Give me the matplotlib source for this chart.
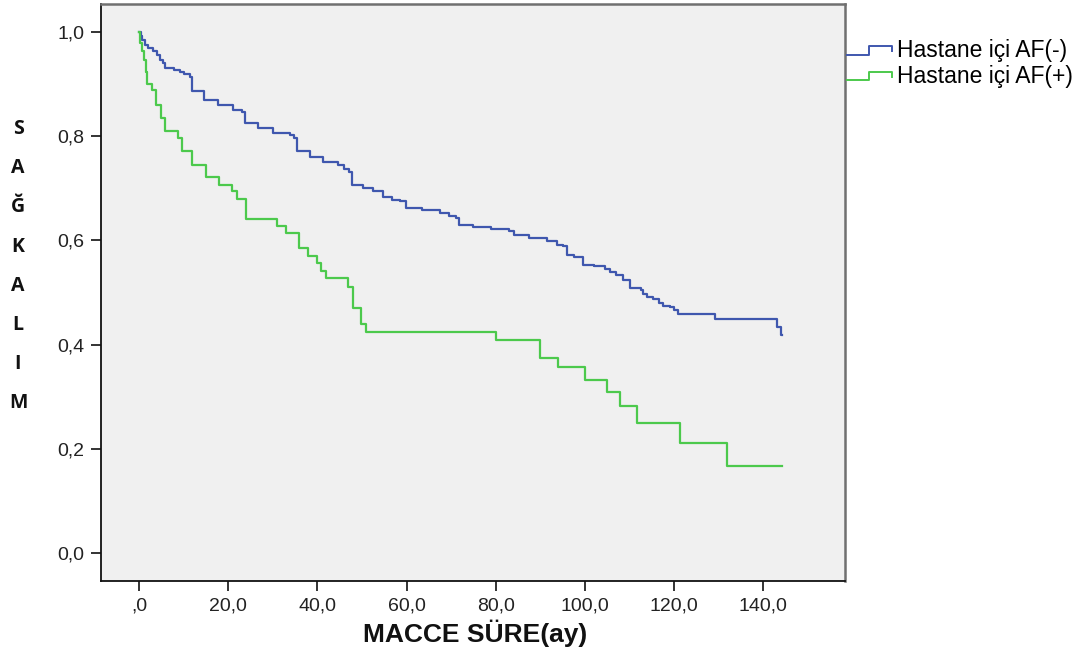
import matplotlib
matplotlib.use("Agg")
import matplotlib.pyplot as plt
from matplotlib.lines import Line2D
from matplotlib.legend_handler import HandlerBase

# ---- data ----
af_neg_t = [0.0, 0.4, 0.8, 1.4, 2.1, 3.2, 4.0, 4.7, 5.5, 5.9, 7.8, 9.2, 10.0, 11.4, 11.8,
            14.7, 17.7, 21.1, 23.0, 23.8, 26.8, 30.1, 33.9, 34.8, 35.4, 38.3, 41.3, 44.7,
            46.0, 47.0, 47.7, 50.3, 52.5, 54.8, 56.8, 58.5, 59.8, 63.5, 67.5, 69.5, 71.0,
            71.8, 75.0, 79.0, 83.0, 84.0, 87.5, 91.5, 93.8, 95.0, 95.9, 97.5, 99.6, 102.0,
            104.5, 105.6, 107.0, 108.5, 110.1, 112.5, 113.0, 114.0, 115.3, 116.5, 117.5,
            119.0, 120.0, 120.9, 129.1, 143.0, 144.0, 144.2]
af_neg_s = [1.0, 0.992, 0.985, 0.976, 0.969, 0.963, 0.956, 0.947, 0.940, 0.931, 0.928, 0.924,
            0.920, 0.914, 0.887, 0.869, 0.860, 0.851, 0.847, 0.825, 0.815, 0.806, 0.803,
            0.796, 0.771, 0.761, 0.751, 0.745, 0.738, 0.732, 0.707, 0.700, 0.695, 0.684,
            0.678, 0.675, 0.662, 0.659, 0.653, 0.646, 0.643, 0.630, 0.625, 0.622, 0.618,
            0.611, 0.604, 0.598, 0.591, 0.589, 0.572, 0.569, 0.553, 0.550, 0.546, 0.540,
            0.534, 0.524, 0.508, 0.505, 0.497, 0.492, 0.487, 0.480, 0.474, 0.472, 0.466,
            0.458, 0.449, 0.434, 0.418, 0.418]

af_pos_t = [0.0, 0.3, 0.7, 1.1, 1.5, 1.9, 2.9, 3.8, 4.9, 5.8, 8.8, 9.6, 11.8, 15.0, 18.0,
            20.8, 21.9, 23.9, 30.9, 32.9, 35.9, 37.9, 40.0, 40.8, 41.9, 46.9, 48.0, 49.9,
            50.9, 80.0, 89.9, 94.0, 100.0, 104.9, 107.8, 111.6, 121.3, 131.8, 144.1]
af_pos_s = [1.0, 0.979, 0.963, 0.947, 0.924, 0.901, 0.889, 0.860, 0.835, 0.810, 0.796,
            0.771, 0.745, 0.721, 0.707, 0.694, 0.680, 0.641, 0.627, 0.614, 0.585, 0.570,
            0.556, 0.541, 0.527, 0.511, 0.470, 0.439, 0.425, 0.409, 0.375, 0.356, 0.332,
            0.309, 0.282, 0.249, 0.211, 0.167, 0.167]

series_labels = ["Hastane içi AF(-)", "Hastane içi AF(+)"]
series_colors = ["#3F57AE", "#4CC94C"]

x_ticks = [0, 20, 40, 60, 80, 100, 120, 140]
x_ticklabels = [",0", "20,0", "40,0", "60,0", "80,0", "100,0", "120,0", "140,0"]
y_ticks = [0.0, 0.2, 0.4, 0.6, 0.8, 1.0]
y_ticklabels = ["0,0", "0,2", "0,4", "0,6", "0,8", "1,0"]
x_title = "MACCE SÜRE(ay)"
y_title_letters = list("SAĞKALIM")

# ---- figure ----
W, H = 1088, 655
fig = plt.figure(figsize=(W / 100, H / 100), dpi=100)
fig.patch.set_facecolor("white")
ax = fig.add_axes([101 / W, 1 - 581 / H, (845 - 101) / W, (581 - 4) / H])
ax.set_facecolor("#F0F0F0")

l1, = ax.step(af_neg_t, af_neg_s, where="post", color=series_colors[0], lw=1.6)
l2, = ax.step(af_pos_t, af_pos_s, where="post", color=series_colors[1], lw=1.6)

ax.set_xlim(-8.5, 158.3)
ax.set_ylim(-0.054, 1.054)
ax.set_xticks(x_ticks)
ax.set_xticklabels(x_ticklabels)
ax.set_yticks(y_ticks)
ax.set_yticklabels(y_ticklabels)

for lab in ax.get_xticklabels() + ax.get_yticklabels():
    lab.set_fontfamily("Liberation Sans")
    lab.set_fontsize(14)
    lab.set_color("#222222")
ax.tick_params(axis="both", direction="out", length=7, width=1.4, color="#333333", pad=5)

for side in ["left", "bottom"]:
    ax.spines[side].set_color("#111111")
    ax.spines[side].set_linewidth(1.3)
for side in ["top", "right"]:
    ax.spines[side].set_color("#707070")
    ax.spines[side].set_linewidth(1.8)

fig.text(475 / W, 1 - 633 / H, x_title, ha="center", va="center",
         fontfamily="Liberation Sans", fontweight="bold", fontsize=19, color="#111111")

# vertical letter title
y0, dy = 129, 39.2
for i, ch in enumerate(y_title_letters):
    fig.text(18 / W, 1 - (y0 + i * dy) / H, ch, ha="center", va="center",
             fontfamily="Open Sans", fontweight="bold", fontsize=14, color="#111111")


class StepHandler(HandlerBase):
    def create_artists(self, legend, orig_handle, xdescent, ydescent, width, height,
                       fontsize, trans):
        xs = [0, 0.5, 0.5, 1.0, 1.0]
        ys = [0.15, 0.15, 0.7, 0.7, 0.35]
        line = Line2D([x * width - xdescent for x in xs],
                      [y * height - ydescent for y in ys],
                      color=orig_handle.get_color(), lw=1.4)
        line.set_transform(trans)
        return [line]


leg = fig.legend([l1, l2], series_labels, loc="upper left",
                 bbox_to_anchor=(847 / W, 1 - 39 / H), frameon=False,
                 prop=dict(family="Liberation Sans", size=16.5),
                 handler_map={Line2D: StepHandler()}, handlelength=1.95,
                 handletextpad=0.25, labelspacing=0.12, borderpad=0, borderaxespad=0)

fig.savefig("out.png", dpi=100)
